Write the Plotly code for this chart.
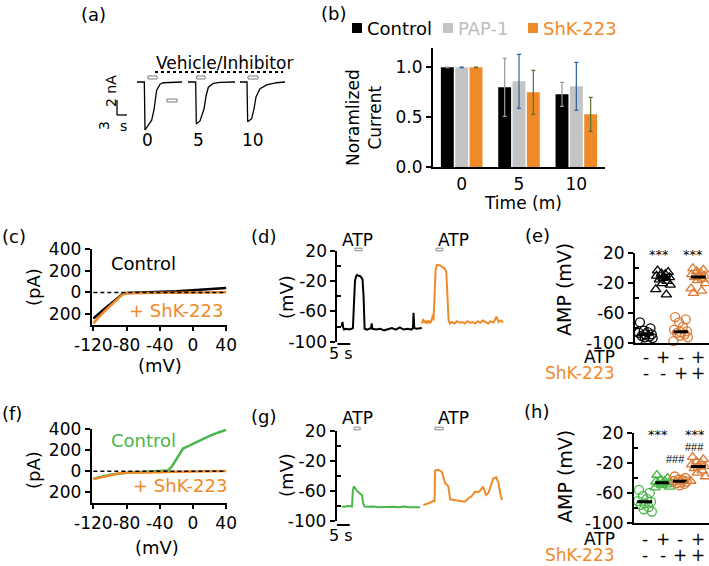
import plotly.graph_objects as go
import numpy as np

W, H = 709, 566
FONT = "DejaVu Sans"
BLACK = "#000000"
ORANGE = "#f08a28"
ORANGE_M = "#dc7a34"
GREEN = "#49b649"
GRAY_BAR = "#c4c4c4"
GRAY_TXT = "#bdbdbd"

# ---------------- data ----------------
# (a) current traces (s, nA), relative to each sweep's start
a_t0 = [0, 2.2, 2.4, 3.4, 4.4, 5.1, 5.4, 5.9, 6.9, 7.9, 13.5]
a_i0 = [0, 0, -6.4, -5.7, -5.1, -3.7, -2.4, -1.1, -0.3, -0.1, 0]
a_t5 = [0, 2.3, 2.5, 3.6, 4.8, 5.4, 6.1, 7.6, 9.6, 14.1]
a_i5 = [0, 0, -5.6, -5.2, -3.6, -1.9, -0.7, -0.2, -0.05, 0]
a_t10 = [0, 2.1, 2.3, 3.5, 4.2, 4.8, 6.0, 8.0, 11.0, 13.5]
a_i10 = [0, 0, -5.3, -4.9, -3.6, -2.0, -0.9, -0.4, -0.1, 0]
a_labels = ["0", "5", "10"]

# (b) normalized current
b_time = ["0", "5", "10"]
b_ctrl = [1.0, 0.80, 0.73]
b_ctrl_err = [0.003, 0.29, 0.12]
b_pap = [1.0, 0.86, 0.81]
b_pap_err = [0.003, 0.27, 0.24]
b_shk = [1.0, 0.75, 0.53]
b_shk_err = [0.003, 0.22, 0.17]

# (c) I-V (mV, pA)
c_v_ctrl = [-120, -115, -110, -105, -100, -95, -90, -85, -80, -70, -60, -50, -40, -30, -20, -10, 0, 10, 20, 30, 40]
c_i_ctrl = [-240, -205, -175, -140, -110, -78, -45, -15, -5, -3, -2, 0, 2, 5, 10, 16, 22, 27, 32, 36, 40]
c_v_shk = [-120, -115, -110, -105, -100, -95, -90, -85, -80, -70, -60, -40, -20, 0, 20, 40]
c_i_shk = [-285, -240, -200, -162, -125, -90, -55, -20, -8, -6, -5, -4, -3, -2, 0, 2]

# (f) I-V (mV, pA)
f_v_ctrl = [-120, -100, -80, -60, -40, -35, -30, -25, -20, -15, -12, -5, 0, 10, 20, 30, 38, 40]
f_i_ctrl = [-70, -33, -13, -6, -2, 0, 8, 50, 110, 180, 215, 240, 260, 300, 335, 365, 390, 392]
f_v_shk = [-120, -110, -100, -90, -80, -70, -60, -40, -20, 0, 20, 40]
f_i_shk = [-74, -55, -35, -22, -15, -12, -10, -8, -5, -3, 0, 3]

# (d) membrane potential (s, mV)
d_t_ctrl = [1.7, 2.0, 2.3, 2.6, 3.5, 4.5, 5.5, 6.0, 6.4, 6.8, 7.2, 7.6, 8.0, 8.6, 9.2, 9.7, 10.1, 10.5, 11.5, 12.5,
            13.0, 13.2, 13.5, 15, 16.5, 18, 19.5, 21, 22.5, 24, 25.5, 27, 28.5, 29.1, 29.3, 29.6, 30.5, 31.5, 32.5]
d_v_ctrl = [-80, -74, -82, -84, -83, -84, -83, -82, -50, -20, -14, -12, -13, -13, -15, -18, -40, -83, -84, -83,
            -82, -76, -83, -84, -83, -85, -84, -82, -84, -81, -84, -83, -84, -82, -62, -82, -83, -82, -82]
d_t_shk = [32.5, 33.0, 33.5, 34.0, 34.5, 35.0, 35.5, 36.0, 36.5, 36.8, 37.0, 37.4, 37.8, 38.3, 39.0, 39.8, 40.6, 41.4,
           41.9, 42.3, 42.8, 43.3, 44.0, 45.0, 46.0, 47.0, 48.0, 49.0, 50.0, 51.0, 52.0, 53.0, 54.0, 55.0, 56.0, 57.0,
           58.0, 59.0, 60.0, 60.8, 61.2, 62.0, 63.0, 63.7]
d_v_shk = [-76, -70, -75, -73, -76, -72, -75, -74, -68, -64, -72, -40, -5, 1, 1, 0, -2, -4,
           -8, -30, -72, -76, -74, -76, -73, -75, -74, -76, -73, -75, -74, -76, -73, -75, -72, -74,
           -76, -73, -75, -70, -67, -74, -72, -75]

# (g) membrane potential (s, mV)
g_t_ctrl = [1.9, 3, 4, 5, 5.9, 6.2, 6.6, 7.0, 7.7, 8.4, 9.2, 9.7, 10.1, 10.6, 12, 14, 16, 18, 20, 22, 24, 26, 28, 30, 32]
g_v_ctrl = [-81, -81.5, -80.5, -81, -81, -60, -54, -56, -60, -62, -64, -66, -75, -81, -81.5, -81, -82, -81.5, -82,
            -81.5, -82, -81, -82, -81.5, -82]
g_t_shk = [33.3, 35.1, 37.2, 37.6, 37.8, 39.0, 40.4, 41.1, 41.7, 42.9, 43.6, 46.2, 49.3, 50.6, 51.7, 53.2, 54.3,
           55.1, 56.2, 56.8, 57.4, 58.3, 59.4, 60.2, 61.3, 62.2, 62.8, 63.5]
g_v_shk = [-79, -77, -73.5, -74, -33, -32, -35, -42, -50, -54, -71.5, -73, -74.7, -70, -68, -61.3, -62,
           -60, -54.7, -60, -65.7, -63, -50, -43.5, -42, -50, -62, -72.4]

# (e) AMP (mV)
e_ctrl_noatp = [-72, -80, -83, -85, -86, -88, -88, -90, -91, -92, -93, -95]
e_ctrl_atp = [-3, -5, -7, -8, -10, -12, -13, -15, -17, -20, -22, -28, -35]
e_shk_noatp = [-65, -68, -72, -78, -82, -84, -85, -86, -88, -90, -92, -97]
e_shk_atp = [0, -2, -4, -6, -8, -10, -11, -12, -14, -16, -20, -27, -30, -33]

# (h) AMP (mV)
h_ctrl_noatp = [-56, -60, -64, -68, -71, -72, -74, -76, -79, -82, -85]
h_ctrl_atp = [-36, -40, -42, -44, -45, -46, -47, -48, -49, -50, -52, -53]
h_shk_noatp = [-38, -40, -42, -43, -44, -45, -46, -47, -48, -50]
h_shk_atp = [-12, -15, -18, -20, -22, -24, -25, -27, -30, -33, -38, -44]

atp_signs = ["-", "+", "-", "+"]
shk_signs = ["-", "-", "+", "+"]

# ---------------- helpers ----------------
def xd(x0, x1):
    return [x0 / W, x1 / W]

def yd(top, bottom):
    return [1 - bottom / H, 1 - top / H]

def PX(x):
    return x / W

def PY(y):
    return 1 - y / H

anns = []
shapes = []

def text(x, y, s, size=16, color="black", angle=0, xanchor="center", yanchor="middle", xref="paper", family=FONT):
    anns.append(dict(x=PX(x) if xref == "paper" else x, y=PY(y), xref=xref, yref="paper", text=s,
                     showarrow=False, font=dict(family=family, size=size, color=color), textangle=angle,
                     xanchor=xanchor, yanchor=yanchor))

fig = go.Figure()

# ---------------- (a) ----------------
a_offsets = [11.1, 26.4, 42.0]
for (tt, ii), off in zip([(a_t0, a_i0), (a_t5, a_i5), (a_t10, a_i10)], a_offsets):
    fig.add_trace(go.Scatter(x=[t + off for t in tt], y=ii, mode="lines", line=dict(color="black", width=1.3),
                             xaxis="x", yaxis="y", hoverinfo="skip"))
for x0, x1 in [(14.4, 17.1), (29.0, 31.5), (44.4, 47.4)]:
    shapes.append(dict(type="rect", xref="x", yref="y", x0=x0, x1=x1, y0=0.4, y1=0.8,
                       line=dict(color="#777", width=1), fillcolor="white"))
shapes.append(dict(type="rect", xref="x", yref="y", x0=20.1, x1=23.1, y0=-2.67, y1=-2.27,
                   line=dict(color="#777", width=1), fillcolor="white"))
shapes.append(dict(type="line", xref="x", yref="y", x0=16.5, x1=54.9, y0=1.33, y1=1.33,
                   line=dict(color="black", width=2, dash="dot")))
shapes.append(dict(type="line", xref="x", yref="y", x0=5.1, x1=5.1, y0=-2.4, y1=-4.4, line=dict(color="black", width=1.3)))
shapes.append(dict(type="line", xref="x", yref="y", x0=5.1, x1=8.1, y0=-4.4, y1=-4.4, line=dict(color="black", width=1.3)))
text(111, 91, "2 nA", size=14, angle=-90)
text(104, 126, "3", size=14, angle=-90)
text(123, 126, "s", size=14)
text(224, 63, "Vehicle/Inhibitor", size=17)
for lab, xx in zip(a_labels, [147, 198, 253]):
    text(xx, 140, lab, size=17)

# ---------------- (b) ----------------
for vals, errs, col, ecol in [(b_ctrl, b_ctrl_err, "black", "#9a9a9a"),
                              (b_pap, b_pap_err, GRAY_BAR, "#2f5f9e"),
                              (b_shk, b_shk_err, ORANGE, "#5b6f2b")]:
    fig.add_trace(go.Bar(x=b_time, y=vals, marker=dict(color=col, line=dict(width=0)),
                         error_y=dict(type="data", array=errs, color=ecol, thickness=1.2, width=2),
                         xaxis="x2", yaxis="y2", hoverinfo="skip"))
for x0, col, lab, tcol in [(352, "black", "Control", "black"), (443, GRAY_BAR, "PAP-1", GRAY_TXT),
                           (528, ORANGE, "ShK-223", ORANGE)]:
    shapes.append(dict(type="rect", xref="paper", yref="paper", x0=PX(x0), x1=PX(x0 + 10), y0=PY(33), y1=PY(23),
                       fillcolor=col, line=dict(width=0)))
    text(x0 + 13, 28, lab, size=18, color=tcol, xanchor="left")
text(364, 118, "Noramlized<br>Current", size=17, angle=-90)
text(523, 203, "Time (m)", size=17)

# ---------------- (c) & (f) ----------------
for xa, ya, v1, i1, c1, v2, i2 in [("x3", "y3", c_v_ctrl, c_i_ctrl, "black", c_v_shk, c_i_shk),
                                   ("x6", "y6", f_v_ctrl, f_i_ctrl, GREEN, f_v_shk, f_i_shk)]:
    fig.add_trace(go.Scatter(x=v1, y=i1, mode="lines", line=dict(color=c1, width=2.5), xaxis=xa, yaxis=ya,
                             hoverinfo="skip"))
    fig.add_trace(go.Scatter(x=v2, y=i2, mode="lines", line=dict(color=ORANGE, width=2.5), xaxis=xa, yaxis=ya,
                             hoverinfo="skip"))
    fig.add_trace(go.Scatter(x=[-120, 40], y=[0, 0], mode="lines",
                             line=dict(color="black", width=1.5, dash="4px,3px"),
                             xaxis=xa, yaxis=ya, hoverinfo="skip"))
text(143, 263, "Control", size=18)
text(176, 310, "+ ShK-223", size=18, color=ORANGE)
text(33, 287, "(pA)", size=18, angle=-90)
text(160, 365, "(mV)", size=18)
text(143, 440, "Control", size=18, color=GREEN)
text(180, 485, "+ ShK-223", size=18, color=ORANGE)
text(33, 470, "(pA)", size=18, angle=-90)
text(157, 547, "(mV)", size=18)

# ---------------- (d) & (g) ----------------
for xa, ya, t1, v1, c1, t2, v2 in [("x4", "y4", d_t_ctrl, d_v_ctrl, "black", d_t_shk, d_v_shk),
                                   ("x7", "y7", g_t_ctrl, g_v_ctrl, GREEN, g_t_shk, g_v_shk)]:
    fig.add_trace(go.Scatter(x=t1, y=v1, mode="lines", line=dict(color=c1, width=2), xaxis=xa, yaxis=ya,
                             hoverinfo="skip"))
    fig.add_trace(go.Scatter(x=t2, y=v2, mode="lines", line=dict(color=ORANGE, width=2), xaxis=xa, yaxis=ya,
                             hoverinfo="skip"))
for xa, ytop, atp_bars, ybar, ysb, ylab in [("x4", 240, [(6.8, 9.5), (38.0, 40.6)], 249.5, 344, 353),
                                            ("x7", 418, [(6.7, 9.0), (37.8, 40.9)], 428.5, 525, 535)]:
    for (x0, x1), tx in zip(atp_bars, [357, 453]):
        shapes.append(dict(type="rect", xref=xa, yref="paper", x0=x0, x1=x1, y0=PY(ybar + 1.3), y1=PY(ybar - 1.3),
                           line=dict(color="#888", width=1), fillcolor="white"))
        text(tx, ytop, "ATP", size=17)
    shapes.append(dict(type="line", xref=xa, yref="paper", x0=0, x1=5, y0=PY(ysb), y1=PY(ysb),
                       line=dict(color="black", width=2)))
    text(341, ylab, "5 s", size=16)
text(286, 297, "(mV)", size=18, angle=-90)
text(286, 475, "(mV)", size=18, angle=-90)

# ---------------- (e) & (h) ----------------
pattern = [-0.32, 0.28, -0.1, 0.12, -0.38, 0.35, 0.0, -0.22, 0.22, -0.05, 0.4, -0.42, 0.18, -0.28]
positions = [0.6, 1.6, 2.6, 3.6]

def group(xa, ya, vals, pos, color, symbol):
    xs = [pos + pattern[i % len(pattern)] for i in range(len(vals))]
    fig.add_trace(go.Scatter(x=xs, y=vals, mode="markers", xaxis=xa, yaxis=ya, cliponaxis=False,
                             marker=dict(symbol=symbol, size=9, color=color, line=dict(color=color, width=1.3)),
                             hoverinfo="skip"))
    med = float(np.median(vals))
    fig.add_trace(go.Scatter(x=[pos - 0.42, pos + 0.42], y=[med, med], mode="lines", xaxis=xa, yaxis=ya,
                             line=dict(color="black", width=3), hoverinfo="skip"))

for xa, ya, groups, cols in [("x5", "y5", [e_ctrl_noatp, e_ctrl_atp, e_shk_noatp, e_shk_atp],
                              ["black", "black", ORANGE_M, ORANGE_M]),
                             ("x8", "y8", [h_ctrl_noatp, h_ctrl_atp, h_shk_noatp, h_shk_atp],
                              [GREEN, GREEN, ORANGE_M, ORANGE_M])]:
    for vals, pos, col, sym in zip(groups, positions, cols,
                                   ["circle-open", "triangle-up-open", "circle-open", "triangle-up-open"]):
        group(xa, ya, vals, pos, col, sym)

for xa, yatp, yshk in [("x5", 357, 373), ("x8", 539, 555)]:
    text(617, yatp, "ATP", size=17, xanchor="right")
    text(617, yshk, "ShK-223", size=17, color=ORANGE, xanchor="right")
    for pos, s1, s2 in zip(positions, atp_signs, shk_signs):
        text(pos, yatp, s1, size=17, xref=xa)
        text(pos, yshk, s2, size=17, xref=xa)

text(1.36, 254, "***", size=13, xref="x5")
text(3.3, 254, "***", size=13, xref="x5")
text(1.35, 434, "***", size=13, xref="x8")
text(3.4, 434, "***", size=13, xref="x8")
text(3.4, 447, "###", size=11, xref="x8", family="Liberation Sans")
text(2.3, 459, "###", size=11, xref="x8", family="Liberation Sans")
text(564, 290, "AMP (mV)", size=19, angle=-90)
text(565, 477, "AMP (mV)", size=19, angle=-90)

# ---------------- panel labels ----------------
for lab, xx, yy in [("(a)", 93, 15), ("(b)", 333, 13), ("(c)", 14, 236), ("(d)", 263, 236), ("(e)", 537, 235),
                    ("(f)", 12, 413), ("(g)", 263, 416), ("(h)", 536, 411)]:
    text(xx, yy, lab, size=18)

# ---------------- axes ----------------
tf = dict(family=FONT, size=17, color="black")
hidden = dict(visible=False, showgrid=False, zeroline=False, automargin=False)
mv_y = dict(range=[-100, 20], tickmode="array", tickvals=[20, -20, -60, -100], ticktext=["20", "-20", "-60", "-100"],
            ticks="outside", ticklen=5, tickwidth=1.5, tickcolor="black", showline=True, linewidth=1.8,
            linecolor="black", showgrid=False, zeroline=False, tickfont=tf, automargin=False,
            minor=dict(tickmode="array", tickvals=[0, -40, -80], ticks="inside", ticklen=4, tickwidth=1.5,
                       tickcolor="black"))
iv_x = dict(range=[-122, 41], tickmode="array", tickvals=[-120, -80, -40, 0, 40],
            ticktext=["-120", "-80", "-40", "0", "40"], ticks="outside", ticklen=4, tickwidth=1.5, tickcolor="black",
            showline=True, linewidth=2, linecolor="black", showgrid=False, zeroline=False, tickfont=tf, tickangle=0,
            automargin=False)
iv_y = dict(range=[-300, 400], tickmode="array", tickvals=[400, 200, 0, -200], ticktext=["400", "200", "0", "200"],
            ticks="outside", ticklen=5, tickwidth=1.5, tickcolor="black", showline=True, linewidth=2,
            linecolor="black", showgrid=False, zeroline=False, tickfont=tf, automargin=False)
amp_x = dict(range=[0, 4.2], showline=True, linewidth=1.8, linecolor="black", ticks="", showticklabels=False,
             showgrid=False, zeroline=False, automargin=False)

layout = dict(
    width=W, height=H, margin=dict(l=0, r=0, t=0, b=0, pad=0, autoexpand=False),
    paper_bgcolor="white", plot_bgcolor="white",
    showlegend=False, font=dict(family=FONT, size=16, color="black"), bargap=0.25, bargroupgap=0.1,
    barmode="group",
    xaxis=dict(domain=xd(100, 290), range=[0, 57], **hidden),
    yaxis=dict(domain=yd(60, 145), range=[-8.4, 2.93], **hidden),
    xaxis2=dict(domain=xd(433, 605), anchor="y2", type="category", showline=True, linewidth=2, linecolor="black",
                ticks="", tickfont=tf, showgrid=False, zeroline=False, automargin=False),
    yaxis2=dict(domain=yd(48, 167.3), anchor="x2", range=[0, 1.193], tickmode="array", tickvals=[0, 0.5, 1.0],
                tickformat=".1f", ticks="outside", ticklen=5, tickwidth=1.5, tickcolor="black", showline=True,
                linewidth=2, linecolor="black", showgrid=False, zeroline=False, tickfont=tf, automargin=False),
    xaxis3=dict(domain=xd(91.7, 227), anchor="y3", **iv_x),
    yaxis3=dict(domain=yd(249, 325), anchor="x3", **iv_y),
    xaxis6=dict(domain=xd(91.7, 227), anchor="y6", **iv_x),
    yaxis6=dict(domain=yd(429, 503), anchor="x6", **iv_y),
    xaxis4=dict(domain=xd(337.3, 510), anchor="y4", range=[0, 66.4], **hidden),
    yaxis4=dict(domain=yd(250.7, 341.7), anchor="x4", **mv_y),
    xaxis7=dict(domain=xd(336.7, 510), anchor="y7", range=[0, 66.6], **hidden),
    yaxis7=dict(domain=yd(430.7, 520.7), anchor="x7", **mv_y),
    xaxis5=dict(domain=xd(635, 709), anchor="y5", **amp_x),
    yaxis5=dict(domain=yd(253.3, 343.3), anchor="x5", **mv_y),
    xaxis8=dict(domain=xd(634, 709), anchor="y8", **amp_x),
    yaxis8=dict(domain=yd(433.3, 522.7), anchor="x8", **mv_y),
    annotations=anns,
    shapes=shapes,
)
fig.update_layout(**layout)
fig.write_html("out.html", config={"displayModeBar": False},
               post_script="document.body.style.margin='0px';document.body.style.overflow='hidden';")
